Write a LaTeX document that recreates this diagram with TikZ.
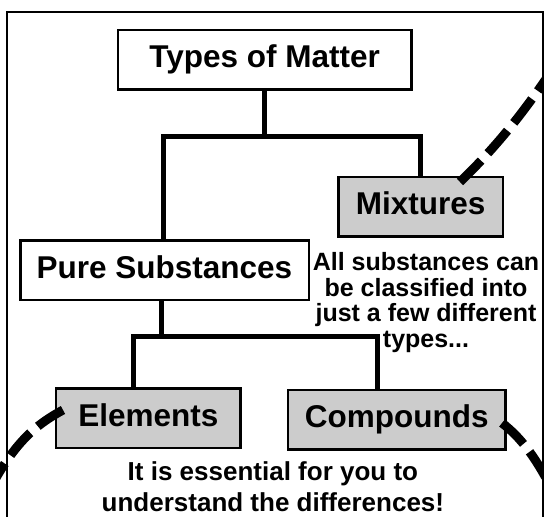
\documentclass[tikz,border=0pt]{standalone}
\usepackage{fontspec}
\setmainfont{Liberation Sans}
\usetikzlibrary{backgrounds}
\begin{document}
\begin{tikzpicture}[x=1pt,y=-1pt,
  box/.style={draw, line width=2.5pt, minimum height=59.5pt, inner sep=0pt,
    font=\fontsize{31.5}{36}\selectfont\bfseries, text height=22.5pt, text depth=7pt},
  graybox/.style={box, fill=gray!40},
  whitebox/.style={box, fill=white},
  conn/.style={line width=4.5pt},
  dashline/.style={line width=9pt, dash pattern=on 30pt off 10pt},
  note/.style={inner sep=0pt, align=center}]
\path[use as bounding box, clip] (0,0) rectangle (544,517);
% boxes
\node[whitebox, minimum width=293.5pt] (types) at (264.7,59.8) {Types of Matter};
\node[graybox, minimum width=164.2pt] (mix) at (420.7,206.5) {Mixtures};
\node[whitebox, minimum width=288.5pt] (pure) at (164.5,270.3) {Pure Substances};
\node[graybox, minimum width=184.2pt] (elem) at (148.3,418.4) {Elements};
\node[graybox, minimum width=217.5pt] (comp) at (396.7,419.8) {Compounds};
\coordinate (j1) at (264.7,136.7);
\coordinate (j2) at (161.7,336.7);
\begin{scope}[on background layer]
  \draw[line width=2pt] (7.3,12) rectangle (543.3,540);
  \draw[conn] (types.south) -- (j1);
  \draw[conn] ([xshift=-1.2pt]pure.north) |- (j1) -| (mix.north);
  \draw[conn] ([xshift=-2.8pt]pure.south) -- (j2);
  \draw[conn] ([xshift=-15pt]elem.north) |- (j2) -| ([xshift=-19pt]comp.north);
\end{scope}
% notes
\node[note, font=\fontsize{25}{25.7}\selectfont\bfseries, anchor=north] (note1) at (426,252)
  {All substances can\\be classified into\\just a few different\\types...};
\node[note, font=\fontsize{26}{31}\selectfont\bfseries, anchor=north] (note2) at (272.9,461)
  {It is essential for you to\\understand the differences!};
% dashed lines
\coordinate (d1) at (560,58);
\coordinate (d2) at (-8,485);
\coordinate (d3) at (556,497);
\draw[dashline] (460,182) .. controls (495,148) and (525,112) .. (d1);
\draw[dashline] (63,410) .. controls (35,425) and (15,443) .. (d2);
\draw[dashline] (502,423) .. controls (520,437) and (535,455) .. (d3);
\end{tikzpicture}
\end{document}
